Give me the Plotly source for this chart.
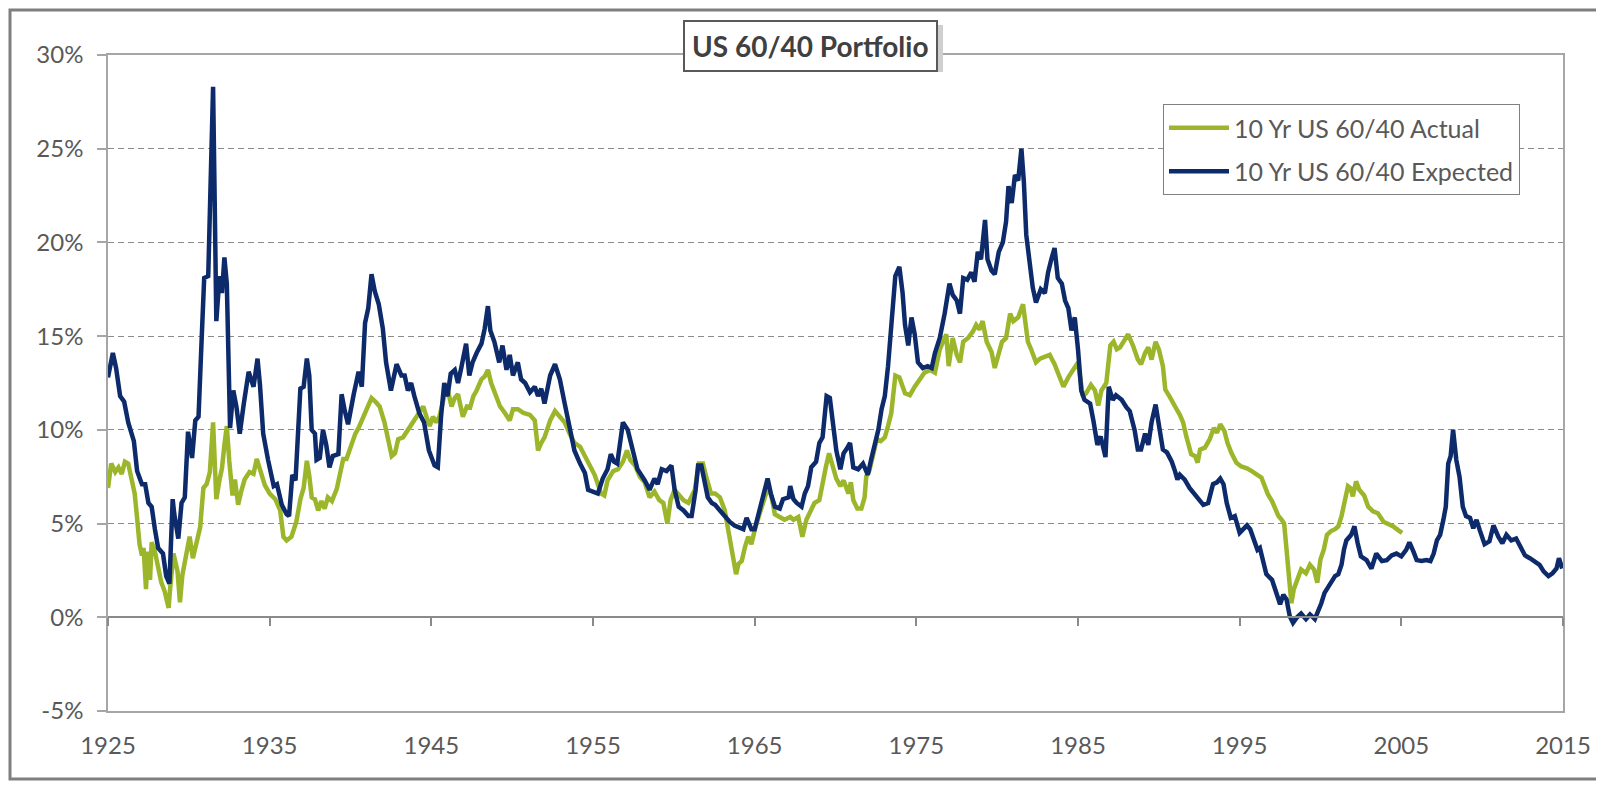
import plotly.graph_objects as go

# ---------------- data ----------------
expected_years = [
    1925.0, 1925.3, 1925.5, 1925.75, 1926.0, 1926.25, 1926.6, 1926.8, 1927.1, 1927.3,
    1927.5, 1927.7, 1927.9, 1928.1, 1928.4, 1928.6, 1928.8, 1929.0, 1929.1, 1929.35,
    1929.55, 1929.75, 1929.95, 1930.2, 1930.4, 1930.6, 1930.8, 1930.95, 1931.2, 1931.35,
    1931.5, 1931.6, 1931.7, 1931.9, 1932.05, 1932.2, 1932.35, 1932.55, 1932.75, 1932.95,
    1933.15, 1933.4, 1933.7, 1934.0, 1934.25, 1934.4, 1934.6, 1934.9, 1935.25, 1935.45,
    1935.75, 1936.05, 1936.2, 1936.4, 1936.6, 1936.9, 1937.1, 1937.3, 1937.45, 1937.6,
    1937.8, 1937.9, 1938.1, 1938.3, 1938.5, 1938.7, 1938.9, 1939.25, 1939.45, 1939.65,
    1939.85, 1940.2, 1940.5, 1940.7, 1940.9, 1941.1, 1941.3, 1941.5, 1941.75, 1942.0,
    1942.2, 1942.5, 1942.85, 1943.15, 1943.35, 1943.55, 1943.75, 1943.95, 1944.25, 1944.55,
    1944.85, 1945.2, 1945.4, 1945.6, 1945.8, 1946.0, 1946.2, 1946.45, 1946.65, 1946.85,
    1947.15, 1947.35, 1947.55, 1947.8, 1948.1, 1948.3, 1948.5, 1948.65, 1948.9, 1949.2,
    1949.4, 1949.65, 1949.85, 1950.05, 1950.35, 1950.55, 1950.8, 1951.1, 1951.4, 1951.6,
    1951.8, 1952.0, 1952.35, 1952.65, 1952.95, 1953.25, 1953.55, 1953.85, 1954.2, 1954.5,
    1954.7, 1955.0, 1955.3, 1955.6, 1955.9, 1956.1, 1956.3, 1956.5, 1956.85, 1957.15,
    1957.45, 1957.75, 1958.2, 1958.5, 1958.8, 1959.0, 1959.25, 1959.55, 1959.85, 1960.05,
    1960.3, 1960.6, 1960.9, 1961.1, 1961.35, 1961.5, 1961.7, 1961.9, 1962.1, 1962.35,
    1962.55, 1962.85, 1963.15, 1963.45, 1963.75, 1964.1, 1964.3, 1964.5, 1964.8, 1965.0,
    1965.2, 1965.4, 1965.65, 1965.8, 1966.0, 1966.25, 1966.55, 1966.75, 1967.1, 1967.2,
    1967.4, 1967.6, 1967.9, 1968.1, 1968.3, 1968.5, 1968.8, 1969.0, 1969.2, 1969.45,
    1969.65, 1969.85, 1970.05, 1970.3, 1970.5, 1970.7, 1970.9, 1971.1, 1971.4, 1971.7,
    1972.0, 1972.2, 1972.45, 1972.65, 1972.85, 1973.05, 1973.25, 1973.45, 1973.7, 1973.95,
    1974.15, 1974.3, 1974.5, 1974.7, 1974.9, 1975.1, 1975.4, 1975.7, 1975.95, 1976.15,
    1976.45, 1976.75, 1977.05, 1977.25, 1977.5, 1977.7, 1977.9, 1978.15, 1978.4, 1978.6,
    1978.8, 1979.0, 1979.25, 1979.4, 1979.65, 1979.85, 1980.1, 1980.35, 1980.55, 1980.7,
    1980.9, 1981.1, 1981.3, 1981.5, 1981.65, 1981.8, 1982.0, 1982.2, 1982.4, 1982.7,
    1982.95, 1983.15, 1983.35, 1983.55, 1983.75, 1984.0, 1984.2, 1984.4, 1984.6, 1984.8,
    1985.0, 1985.2, 1985.4, 1985.75, 1985.95, 1986.2, 1986.4, 1986.55, 1986.7, 1986.9,
    1987.15, 1987.35, 1987.7, 1988.0, 1988.2, 1988.5, 1988.7, 1988.9, 1989.15, 1989.35,
    1989.55, 1989.8, 1990.0, 1990.25, 1990.5, 1990.8, 1991.0, 1991.15, 1991.3, 1991.6,
    1991.9, 1992.2, 1992.45, 1992.75, 1993.05, 1993.35, 1993.6, 1993.8, 1994.0, 1994.2,
    1994.45, 1994.7, 1995.0, 1995.25, 1995.45, 1995.65, 1995.85, 1996.1, 1996.25, 1996.45,
    1996.65, 1997.0, 1997.3, 1997.5, 1997.7, 1997.9, 1998.1, 1998.3, 1998.55, 1998.8,
    1999.1, 1999.35, 1999.65, 1999.85, 2000.05, 2000.25, 2000.5, 2000.7, 2000.9, 2001.1,
    2001.3, 2001.45, 2001.6, 2001.9, 2002.1, 2002.3, 2002.5, 2002.85, 2003.15, 2003.45,
    2003.8, 2004.1, 2004.4, 2004.7, 2005.0, 2005.3, 2005.5, 2005.75, 2005.95, 2006.25,
    2006.55, 2006.8, 2007.0, 2007.2, 2007.4, 2007.6, 2007.75, 2007.9, 2008.05, 2008.2,
    2008.4, 2008.6, 2008.8, 2009.0, 2009.25, 2009.45, 2009.65, 2009.85, 2010.15, 2010.45,
    2010.7, 2011.0, 2011.25, 2011.5, 2011.8, 2012.1, 2012.35, 2012.65, 2012.95, 2013.25,
    2013.55, 2013.8, 2014.1, 2014.35, 2014.6, 2014.75, 2014.95,
]
expected_values = [
    12.8, 14.1, 13.3, 11.8, 11.5, 10.4, 9.4, 7.8, 7.1, 7.1,
    6.1, 5.9, 4.7, 3.7, 3.4, 2.2, 1.8, 6.3, 5.5, 4.2,
    6.1, 6.4, 9.9, 8.5, 10.5, 10.7, 15.0, 18.1, 18.2, 23.1,
    28.3, 22.2, 15.8, 18.2, 17.3, 19.2, 17.8, 10.1, 12.1, 11.2,
    9.8, 11.4, 13.1, 12.3, 13.8, 12.4, 9.8, 8.4, 7.0, 7.1,
    6.0, 5.5, 5.4, 7.6, 7.3, 12.2, 12.3, 13.8, 12.9, 10.0,
    9.8, 8.4, 8.5, 10.0, 9.2, 8.0, 8.6, 8.7, 11.9, 11.0,
    10.3, 11.9, 13.1, 12.3, 15.7, 16.5, 18.3, 17.4, 16.7, 15.4,
    13.6, 12.1, 13.5, 12.9, 12.9, 12.1, 12.5, 11.8, 10.9, 10.4,
    8.9, 8.1, 8.0, 10.7, 12.5, 11.8, 13.0, 13.2, 12.5, 13.3,
    14.6, 12.9, 13.6, 14.1, 14.6, 15.4, 16.6, 15.3, 14.7, 13.6,
    14.5, 13.2, 14.0, 12.9, 13.6, 12.7, 12.5, 12.0, 12.3, 11.8,
    12.2, 11.4, 12.9, 13.5, 12.7, 11.4, 10.2, 8.9, 8.2, 7.7,
    6.8, 6.7, 6.6, 7.4, 7.9, 8.7, 8.3, 8.2, 10.4, 10.0,
    8.9, 7.9, 7.3, 6.8, 7.4, 7.1, 7.9, 7.8, 8.1, 6.8,
    5.9, 5.7, 5.4, 5.4, 6.8, 8.1, 8.1, 7.1, 6.4, 6.1,
    6.0, 5.7, 5.4, 5.1, 4.9, 4.8, 4.7, 5.3, 4.7, 4.7,
    5.4, 6.1, 6.8, 7.4, 6.6, 5.9, 5.8, 6.3, 6.4, 7.0,
    6.3, 6.1, 5.9, 6.6, 7.0, 8.0, 8.3, 9.3, 9.6, 11.8,
    11.7, 10.4, 8.9, 7.9, 8.75, 9.0, 9.3, 8.0, 7.9, 8.2,
    7.6, 8.4, 9.3, 10.0, 11.1, 11.8, 13.4, 15.4, 18.2, 18.7,
    17.3, 15.6, 14.5, 16.0, 15.1, 13.6, 13.3, 13.4, 13.3, 14.1,
    14.9, 16.2, 17.8, 17.2, 16.9, 16.2, 18.1, 18.0, 18.4, 17.9,
    19.5, 19.1, 21.2, 19.1, 18.5, 18.3, 19.5, 20.0, 21.1, 23.0,
    22.1, 23.6, 23.3, 25.0, 23.25, 20.4, 19.1, 17.6, 16.8, 17.5,
    17.3, 18.4, 19.1, 19.7, 18.1, 17.8, 16.9, 16.5, 15.3, 16.0,
    14.3, 12.1, 11.6, 11.4, 10.5, 9.2, 9.65, 9.2, 8.55, 12.3,
    11.6, 11.85, 11.6, 11.2, 11.0, 10.0, 8.95, 8.95, 9.8, 9.2,
    10.4, 11.35, 10.2, 8.95, 8.8, 8.3, 7.8, 7.35, 7.6, 7.35,
    6.9, 6.55, 6.3, 6.0, 6.1, 7.1, 7.2, 7.4, 7.1, 6.1,
    5.3, 5.4, 4.5, 4.7, 4.9, 4.7, 4.15, 3.6, 3.7, 3.0,
    2.3, 2.0, 1.3, 0.7, 1.2, 0.95, 0.05, -0.3, 0.0, 0.2,
    -0.1, 0.15, -0.1, 0.3, 0.75, 1.3, 1.65, 1.85, 2.2, 2.3,
    2.8, 3.6, 4.1, 4.4, 4.85, 3.95, 3.25, 3.05, 2.6, 3.4,
    3.0, 3.05, 3.3, 3.4, 3.25, 3.6, 4.0, 3.5, 3.05, 3.0,
    3.05, 3.0, 3.4, 4.1, 4.4, 5.2, 5.9, 8.2, 8.6, 10.0,
    8.4, 7.5, 5.9, 5.4, 5.3, 4.75, 5.2, 4.65, 3.9, 4.05,
    4.9, 4.3, 3.95, 4.4, 4.1, 4.2, 3.75, 3.3, 3.15, 2.95,
    2.8, 2.45, 2.2, 2.35, 2.6, 3.15, 2.6,
]

actual_years = [
    1925.0, 1925.2, 1925.45, 1925.65, 1925.85, 1926.05, 1926.25, 1926.45, 1926.65, 1926.8,
    1926.95, 1927.1, 1927.2, 1927.35, 1927.45, 1927.6, 1927.7, 1927.9, 1928.1, 1928.3,
    1928.5, 1928.75, 1928.85, 1929.05, 1929.3, 1929.45, 1929.6, 1929.8, 1930.05, 1930.25,
    1930.5, 1930.7, 1930.9, 1931.1, 1931.3, 1931.5, 1931.6, 1931.7, 1931.9, 1932.05,
    1932.2, 1932.35, 1932.5, 1932.7, 1932.85, 1933.05, 1933.25, 1933.45, 1933.75, 1934.0,
    1934.2, 1934.4, 1934.7, 1935.0, 1935.35, 1935.65, 1935.85, 1936.05, 1936.35, 1936.65,
    1936.9, 1937.1, 1937.3, 1937.45, 1937.6, 1937.8, 1938.0, 1938.2, 1938.4, 1938.6,
    1938.85, 1939.15, 1939.35, 1939.55, 1939.75, 1940.05, 1940.3, 1940.5, 1940.8, 1941.1,
    1941.3, 1941.55, 1941.8, 1942.1, 1942.35, 1942.55, 1942.75, 1942.95, 1943.25, 1943.55,
    1943.9, 1944.2, 1944.5, 1944.7, 1944.9, 1945.1, 1945.3, 1945.5, 1945.8, 1946.05,
    1946.25, 1946.45, 1946.65, 1946.95, 1947.2, 1947.4, 1947.6, 1947.8, 1948.1, 1948.3,
    1948.5, 1948.7, 1948.95, 1949.25, 1949.55, 1949.85, 1950.05, 1950.35, 1950.7, 1951.1,
    1951.4, 1951.6, 1951.8, 1952.0, 1952.35, 1952.65, 1952.95, 1953.25, 1953.55, 1953.85,
    1954.2, 1954.5, 1954.8, 1955.1, 1955.3, 1955.5, 1955.7, 1955.9, 1956.25, 1956.55,
    1956.85, 1957.1, 1957.3, 1957.6, 1957.9, 1958.2, 1958.5, 1958.8, 1959.1, 1959.35,
    1959.6, 1959.8, 1960.05, 1960.35, 1960.6, 1960.9, 1961.1, 1961.3, 1961.55, 1961.8,
    1962.0, 1962.3, 1962.55, 1962.85, 1963.15, 1963.35, 1963.55, 1963.7, 1963.85, 1964.0,
    1964.2, 1964.4, 1964.6, 1964.8, 1965.0, 1965.3, 1965.65, 1965.85, 1966.05, 1966.25,
    1966.55, 1966.85, 1967.2, 1967.4, 1967.7, 1967.95, 1968.2, 1968.45, 1968.7, 1969.0,
    1969.2, 1969.4, 1969.6, 1969.8, 1970.05, 1970.3, 1970.5, 1970.8, 1970.95, 1971.1,
    1971.35, 1971.6, 1971.8, 1971.9, 1972.1, 1972.35, 1972.55, 1972.8, 1973.05, 1973.25,
    1973.45, 1973.7, 1973.95, 1974.3, 1974.6, 1974.9, 1975.2, 1975.5, 1975.85, 1976.15,
    1976.45, 1976.65, 1976.85, 1977.0, 1977.25, 1977.5, 1977.7, 1977.9, 1978.2, 1978.5,
    1978.7, 1978.9, 1979.1, 1979.35, 1979.65, 1979.85, 1980.05, 1980.3, 1980.55, 1980.8,
    1981.0, 1981.3, 1981.6, 1981.75, 1981.9, 1982.1, 1982.4, 1982.65, 1982.95, 1983.25,
    1983.55, 1983.85, 1984.1, 1984.4, 1984.7, 1985.0, 1985.3, 1985.5, 1985.8, 1986.05,
    1986.25, 1986.45, 1986.75, 1987.0, 1987.2, 1987.4, 1987.6, 1987.8, 1988.1, 1988.4,
    1988.7, 1988.9, 1989.15, 1989.35, 1989.55, 1989.8, 1990.0, 1990.25, 1990.4, 1990.65,
    1990.9, 1991.1, 1991.3, 1991.5, 1991.7, 1991.9, 1992.0, 1992.25, 1992.4, 1992.55,
    1992.85, 1993.15, 1993.4, 1993.6, 1993.8, 1994.05, 1994.25, 1994.5, 1994.8, 1995.1,
    1995.45, 1995.75, 1996.05, 1996.35, 1996.55, 1996.75, 1997.0, 1997.2, 1997.4, 1997.6,
    1997.75, 1997.9, 1998.05, 1998.2, 1998.35, 1998.55, 1998.8, 1999.1, 1999.35, 1999.6,
    1999.8, 2000.0, 2000.2, 2000.4, 2000.65, 2000.9, 2001.1, 2001.3, 2001.5, 2001.7,
    2001.85, 2002.0, 2002.2, 2002.4, 2002.7, 2002.95, 2003.25, 2003.55, 2003.9, 2004.2,
    2004.5, 2004.8, 2005.05,
]
actual_values = [
    6.9, 8.2, 7.75, 8.0, 7.65, 8.3, 8.2, 7.35, 6.6, 5.3,
    3.9, 3.3, 3.7, 1.5, 3.5, 2.0, 4.0, 3.5, 2.65, 1.85,
    1.4, 0.5, 1.6, 3.4, 2.45, 0.8, 2.25, 3.05, 4.3, 3.15,
    4.1, 4.8, 6.9, 7.1, 7.75, 10.4, 8.35, 6.3, 7.35, 7.95,
    9.2, 10.2, 8.35, 6.5, 7.35, 6.0, 6.75, 7.35, 7.75, 7.65,
    8.45, 7.85, 7.05, 6.6, 6.3, 5.7, 4.3, 4.1, 4.3, 5.1,
    6.3, 6.9, 8.35, 7.55, 6.4, 6.3, 5.7, 6.2, 5.8, 6.4,
    6.2, 6.85, 7.75, 8.45, 8.45, 9.2, 9.8, 10.1, 10.7, 11.4,
    11.7, 11.5, 11.25, 10.4, 9.5, 8.6, 8.75, 9.5, 9.6, 10.0,
    10.4, 10.9, 11.25, 10.7, 10.2, 10.7, 10.4, 10.7, 11.8, 12.0,
    11.25, 11.7, 11.9, 10.7, 11.25, 11.2, 11.8, 12.1, 12.7, 12.85,
    13.2, 12.5, 11.9, 11.25, 10.9, 10.5, 11.1, 11.1, 10.9, 10.8,
    10.5, 8.9, 9.3, 9.6, 10.5, 11.0, 10.7, 10.4, 9.8, 9.3,
    9.1, 8.6, 8.0, 7.6, 7.1, 6.6, 6.5, 7.3, 7.8, 7.9,
    8.3, 8.9, 8.4, 8.1, 7.5, 7.2, 6.4, 6.7, 6.25, 6.1,
    5.0, 6.25, 6.8, 6.5, 6.25, 6.1, 6.4, 6.8, 8.2, 8.2,
    7.5, 6.6, 6.6, 6.4, 5.7, 4.8, 3.9, 3.0, 2.3, 2.85,
    3.0, 3.75, 4.3, 3.9, 4.65, 5.5, 6.4, 7.0, 6.4, 5.5,
    5.35, 5.2, 5.35, 5.2, 5.35, 4.3, 5.2, 5.7, 6.1, 6.25,
    7.3, 8.0, 8.75, 8.2, 7.4, 7.0, 7.3, 6.6, 7.2, 6.25,
    5.8, 5.8, 6.4, 7.5, 7.85, 8.75, 9.5, 9.4, 9.6, 10.2,
    10.9, 12.9, 12.8, 11.95, 11.85, 12.3, 12.7, 13.05, 13.2, 13.05,
    14.3, 14.7, 15.1, 13.4, 14.9, 14.0, 13.6, 14.7, 14.9, 15.25,
    15.6, 15.35, 15.8, 14.7, 14.15, 13.3, 14.0, 14.7, 14.9, 16.2,
    15.8, 16.0, 16.7, 15.8, 14.7, 14.3, 13.6, 13.8, 13.9, 14.0,
    13.5, 12.9, 12.3, 12.8, 13.2, 13.6, 11.8, 11.95, 12.4, 12.1,
    11.3, 12.1, 12.5, 14.5, 14.7, 14.3, 14.4, 14.7, 15.1, 14.5,
    13.75, 13.5, 14.1, 14.4, 13.75, 14.7, 14.3, 13.4, 12.15, 11.8,
    11.35, 11.1, 10.8, 10.4, 9.65, 9.05, 8.7, 8.6, 8.25, 8.95,
    9.05, 9.5, 10.1, 9.85, 10.3, 9.95, 9.3, 8.75, 8.25, 8.05,
    7.95, 7.8, 7.6, 7.45, 7.0, 6.55, 6.2, 5.75, 5.4, 5.2,
    5.0, 3.6, 1.85, 0.75, 1.5, 2.0, 2.55, 2.35, 2.8, 2.55,
    1.85, 3.1, 3.6, 4.4, 4.6, 4.7, 4.85, 5.4, 6.2, 7.0,
    6.9, 6.45, 7.25, 6.8, 6.5, 5.9, 5.65, 5.55, 5.1, 5.0,
    4.85, 4.65, 4.5,
]

series_names = ["10 Yr US 60/40 Actual", "10 Yr US 60/40 Expected"]
year_ticks = [1925, 1935, 1945, 1955, 1965, 1975, 1985, 1995, 2005, 2015]
pct_ticks = [-5, 0, 5, 10, 15, 20, 25, 30]
pct_labels = ["-5%", "0%", "5%", "10%", "15%", "20%", "25%", "30%"]
title_text = "US 60/40 Portfolio"

# ---------------- styling ----------------
GREEN = "#9BB62A"
NAVY = "#0D2A6B"
TEXT = "#595959"
GRID = "#8C8C8C"
BORDER = "#A6A6A6"
FONT = "Lato"

# the page body adds an 8px margin, so the figure is drawn 8px in from the window
OFF = 8
W, H = 1604 - 2 * OFF, 789 - 2 * OFF
# plot area in window pixels: x 108..1563, y 55..711
L, T = 108 - OFF, 55 - OFF
R = W - (1563 - OFF)
B = H - (711 - OFF)
PW, PH = W - L - R, H - T - B


def px_x(px):
    """window pixel x -> paper x"""
    return (px - OFF - L) / PW


def px_y(py):
    """window pixel y -> paper y"""
    return (H - B - (py - OFF)) / PH


fig = go.Figure()
fig.add_trace(go.Scatter(
    x=actual_years, y=actual_values, mode="lines", name=series_names[0],
    line=dict(color=GREEN, width=4.5), legendgroup="a",
    xaxis="x", yaxis="y",
))
fig.add_trace(go.Scatter(
    x=expected_years, y=expected_values, mode="lines", name=series_names[1],
    line=dict(color=NAVY, width=4.5), legendgroup="b",
    xaxis="x2", yaxis="y",
))

xr = [year_ticks[0], year_ticks[-1]]
fig.update_layout(
    width=W, height=H,
    margin=dict(l=L, r=R, t=T, b=B, pad=0, autoexpand=False),
    paper_bgcolor="white", plot_bgcolor="white",
    font=dict(family=FONT, color=TEXT, size=24),
    showlegend=True,
    legend=dict(
        x=px_x(1163), y=px_y(104), xanchor="left", yanchor="top",
        bgcolor="white", bordercolor="#808080", borderwidth=1,
        font=dict(family=FONT, size=25, color=TEXT),
        traceorder="grouped", tracegroupgap=8, itemwidth=60,
    ),
    xaxis=dict(
        range=xr, tickmode="array", tickvals=year_ticks,
        ticktext=[str(v) for v in year_ticks],
        showgrid=False, zeroline=False,
        showline=True, mirror=True, linecolor=BORDER, linewidth=1.5,
        ticks="", ticklabelstandoff=12,
        tickfont=dict(family=FONT, size=24, color=TEXT),
    ),
    xaxis2=dict(
        range=xr, matches="x", overlaying="x", anchor="free",
        position=(0 - pct_ticks[0]) / (pct_ticks[-1] - pct_ticks[0]),
        tickmode="array", tickvals=year_ticks, showticklabels=False,
        showgrid=False, zeroline=False,
        showline=True, linecolor="#8A8A8A", linewidth=1.5,
        ticks="outside", ticklen=8, tickcolor="#8A8A8A", tickwidth=1.5,
    ),
    yaxis=dict(
        range=[pct_ticks[0], pct_ticks[-1]], tickmode="array",
        tickvals=pct_ticks, ticktext=pct_labels,
        showgrid=True, gridcolor=GRID, gridwidth=1, griddash="6px,4px",
        zeroline=False,
        showline=True, mirror=True, linecolor=BORDER, linewidth=1.5,
        ticks="outside", ticklen=9, tickcolor=BORDER, tickwidth=1.5,
        ticklabelstandoff=9,
        tickfont=dict(family=FONT, size=24, color=TEXT),
    ),
)

# outer chart frame (kept inside the figure; extends past the right edge)
fig.add_shape(type="rect", xref="paper", yref="paper",
              x0=px_x(10), x1=px_x(1640), y0=px_y(H + OFF - 2), y1=px_y(OFF + 2),
              line=dict(color="#7F7F7F", width=3), fillcolor="rgba(0,0,0,0)",
              layer="above")

# title box shadow
fig.add_shape(type="rect", xref="paper", yref="paper",
              x0=px_x(683), x1=px_x(943), y0=px_y(72), y1=px_y(25),
              line=dict(width=0), fillcolor="#CFCFCF", layer="above")

fig.add_annotation(
    text="<b>" + title_text + "</b>", xref="paper", yref="paper",
    x=px_x(810), y=px_y(45.5), xanchor="center", yanchor="middle",
    showarrow=False, font=dict(family=FONT, size=28, color="#404040"),
    bgcolor="white", bordercolor="#595959", borderwidth=2, borderpad=7,
)

fig.write_html("out.html")
